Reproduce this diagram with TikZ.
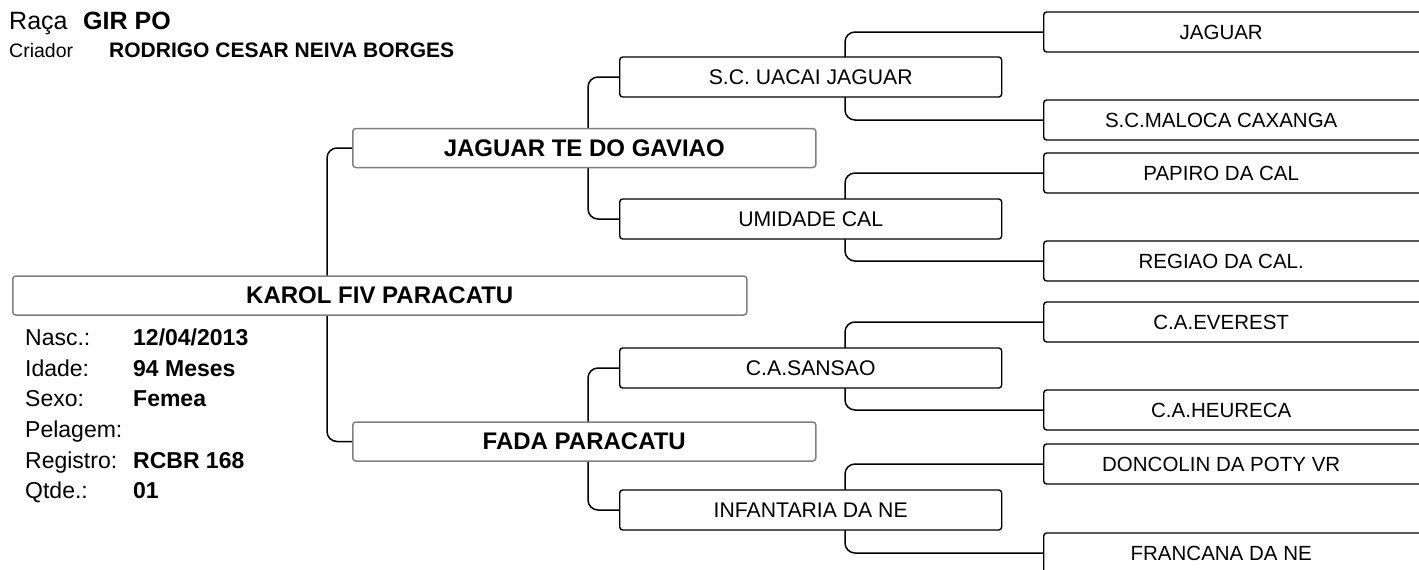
\documentclass[tikz,border=0pt]{standalone}
\usepackage{fontspec}
\setmainfont{Liberation Sans}
\usetikzlibrary{backgrounds}
\definecolor{boxgray}{RGB}{128,128,128}
\newcommand{\ggtext}[1]{\makebox[355pt]{#1}\hspace*{65pt}}
\tikzset{
 pbox/.style={draw=boxgray, line width=1.5pt, rounded corners=3pt, fill=white, anchor=west, inner sep=0pt, minimum height=39pt, font=\fontsize{24}{28}\selectfont\bfseries},
 gbox/.style={draw=black, line width=1.4pt, rounded corners=3pt, fill=white, anchor=west, inner sep=0pt, minimum width=382pt, minimum height=40pt, font=\fontsize{21.2}{25}\selectfont},
 ggbox/.style={gbox, minimum width=420pt, font=\fontsize{20.5}{24}\selectfont},
 conn/.style={draw=black, line width=1.5pt, rounded corners=10pt},
 lab/.style={anchor=base west, inner sep=0pt, font=\fontsize{23}{27}\selectfont},
 val/.style={anchor=base west, inner sep=0pt, font=\fontsize{23}{27}\selectfont\bfseries},
}
\begin{document}
\begin{tikzpicture}[x=1pt,y=-1pt]
\useasboundingbox (0,0) rectangle (1419,570);
\clip (0,0) rectangle (1419,570);
% header
\node[anchor=base west, inner sep=0pt, font=\fontsize{25}{29}\selectfont] (raca) at (9,29) {Raça};
\node[anchor=base west, inner sep=0pt, font=\fontsize{25}{29}\selectfont\bfseries] (raval) at (83,29) {GIR PO};
\node[anchor=base west, inner sep=0pt, font=\fontsize{19.5}{23}\selectfont] (criador) at (9,57) {Criador};
\node[anchor=base west, inner sep=0pt, font=\fontsize{21}{25}\selectfont\bfseries] (crval) at (109,57) {RODRIGO CESAR NEIVA BORGES};
% main
\node[pbox, minimum width=734pt] (main) at (12,295.5) {KAROL FIV PARACATU};
\node[pbox, minimum width=463pt] (jag) at (352,148) {JAGUAR TE DO GAVIAO};
\node[pbox, minimum width=463pt] (fada) at (352,441.5) {FADA PARACATU};
% info
\node[lab] (l1) at (25,345) {Nasc.:};     \node[val] (v1) at (133,345) {12/04/2013};
\node[lab] (l2) at (25,376) {Idade:};     \node[val] (v2) at (133,376) {94 Meses};
\node[lab] (l3) at (25,406) {Sexo:};      \node[val] (v3) at (133,406) {Femea};
\node[lab] (l4) at (25,437) {Pelagem:};
\node[lab] (l5) at (25,468) {Registro:};  \node[val] (v5) at (133,468) {RCBR 168};
\node[lab] (l6) at (25,498) {Qtde.:};     \node[val] (v6) at (133,498) {01};
% grandparents
\node[gbox] (uacai) at (619,77) {S.C. UACAI JAGUAR};
\node[gbox] (umid) at (619,219) {UMIDADE CAL};
\node[gbox] (sans) at (619,368) {C.A.SANSAO};
\node[gbox] (inf) at (619,510) {INFANTARIA DA NE};
% great-grandparents
\node[ggbox] (g1) at (1043,32) {\ggtext{JAGUAR}};
\node[ggbox] (g2) at (1043,120) {\ggtext{S.C.MALOCA CAXANGA}};
\node[ggbox] (g3) at (1043,173) {\ggtext{PAPIRO DA CAL}};
\node[ggbox] (g4) at (1043,261) {\ggtext{REGIAO DA CAL.}};
\node[ggbox] (g5) at (1043,322) {\ggtext{C.A.EVEREST}};
\node[ggbox] (g6) at (1043,410) {\ggtext{C.A.HEURECA}};
\node[ggbox] (g7) at (1043,464) {\ggtext{DONCOLIN DA POTY VR}};
\node[ggbox] (g8) at (1043,553) {\ggtext{FRANCANA DA NE}};
% connectors
\begin{scope}[on background layer]
\draw[conn] (jag.west) -- ++(-25,0) |- (fada.west);
\draw[conn] (uacai.west) -- ++(-31,0) |- (umid.west);
\draw[conn] (sans.west) -- ++(-31,0) |- (inf.west);
\draw[conn] (g1.west) -- ++(-198,0) |- (g2.west);
\draw[conn] (g3.west) -- ++(-198,0) |- (g4.west);
\draw[conn] (g5.west) -- ++(-198,0) |- (g6.west);
\draw[conn] (g7.west) -- ++(-198,0) |- (g8.west);
\end{scope}
\end{tikzpicture}
\end{document}
